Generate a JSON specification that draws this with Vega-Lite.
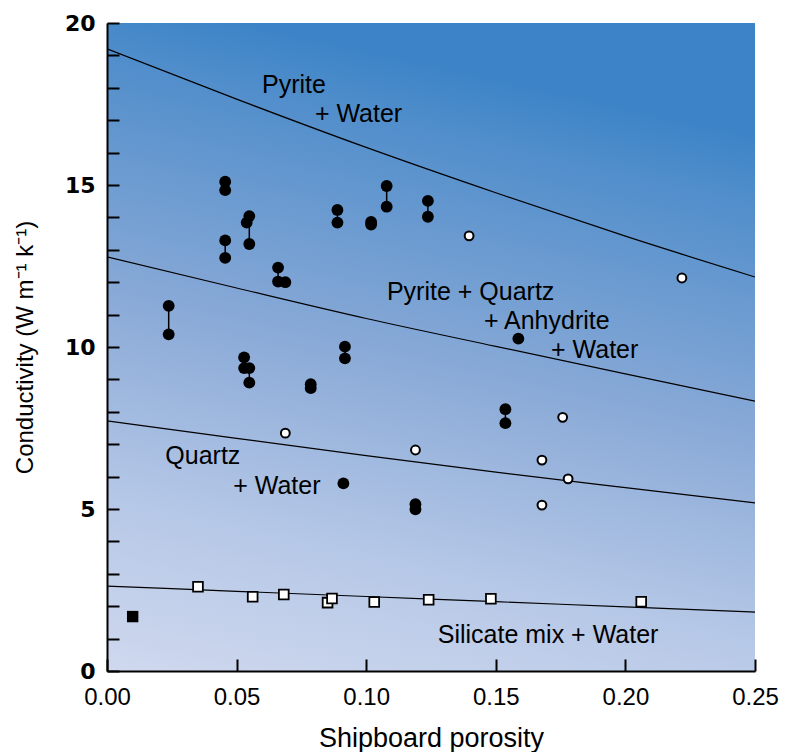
{
  "$schema": "https://vega.github.io/schema/vega-lite/v6.json",
  "width": 648,
  "height": 648,
  "autosize": {"type": "none"},
  "padding": {"left": 107, "top": 23, "right": 30, "bottom": 81},
  "background": "white",
  "config": {"view": {"stroke": null}},
  "datasets": {
    "bg": [{"x0": 0, "x1": 0.25, "y0": 0, "y1": 20}],
    "lines": [
      {"model": "Pyrite + Water", "phi": 0, "k": 19.2},
      {"model": "Pyrite + Water", "phi": 0.05, "k": 17.65},
      {"model": "Pyrite + Water", "phi": 0.1, "k": 16.16},
      {"model": "Pyrite + Water", "phi": 0.15, "k": 14.76},
      {"model": "Pyrite + Water", "phi": 0.2, "k": 13.42},
      {"model": "Pyrite + Water", "phi": 0.25, "k": 12.16},
      {"model": "Pyrite + Quartz + Anhydrite + Water", "phi": 0, "k": 12.78},
      {"model": "Pyrite + Quartz + Anhydrite + Water", "phi": 0.05, "k": 11.82},
      {"model": "Pyrite + Quartz + Anhydrite + Water", "phi": 0.1, "k": 10.88},
      {"model": "Pyrite + Quartz + Anhydrite + Water", "phi": 0.15, "k": 10.02},
      {"model": "Pyrite + Quartz + Anhydrite + Water", "phi": 0.2, "k": 9.17},
      {"model": "Pyrite + Quartz + Anhydrite + Water", "phi": 0.25, "k": 8.33},
      {"model": "Quartz + Water", "phi": 0, "k": 7.72},
      {"model": "Quartz + Water", "phi": 0.05, "k": 7.18},
      {"model": "Quartz + Water", "phi": 0.1, "k": 6.65},
      {"model": "Quartz + Water", "phi": 0.15, "k": 6.14},
      {"model": "Quartz + Water", "phi": 0.2, "k": 5.66},
      {"model": "Quartz + Water", "phi": 0.25, "k": 5.19},
      {"model": "Silicate mix + Water", "phi": 0, "k": 2.62},
      {"model": "Silicate mix + Water", "phi": 0.05, "k": 2.46},
      {"model": "Silicate mix + Water", "phi": 0.1, "k": 2.3},
      {"model": "Silicate mix + Water", "phi": 0.15, "k": 2.14},
      {"model": "Silicate mix + Water", "phi": 0.2, "k": 1.98},
      {"model": "Silicate mix + Water", "phi": 0.25, "k": 1.82}
    ],
    "pairs": [
      {"phi": 0.0238, "lo": 10.39, "hi": 11.27},
      {"phi": 0.0456, "lo": 12.75, "hi": 13.29},
      {"phi": 0.0456, "lo": 14.84, "hi": 15.10},
      {"phi": 0.0549, "lo": 13.18, "hi": 14.04},
      {"phi": 0.0660, "lo": 12.02, "hi": 12.45},
      {"phi": 0.0529, "lo": 9.35, "hi": 9.68},
      {"phi": 0.0549, "lo": 8.90, "hi": 9.35},
      {"phi": 0.0889, "lo": 13.84, "hi": 14.23},
      {"phi": 0.1079, "lo": 14.33, "hi": 14.97},
      {"phi": 0.1238, "lo": 14.02, "hi": 14.51},
      {"phi": 0.0918, "lo": 9.65, "hi": 10.01},
      {"phi": 0.1537, "lo": 7.65, "hi": 8.08},
      {"phi": 0.1190, "lo": 4.99, "hi": 5.15},
      {"phi": 0.0786, "lo": 8.73, "hi": 8.85}
    ],
    "points": [
      {"type": "filled circle", "phi": 0.0456, "k": 15.10},
      {"type": "filled circle", "phi": 0.0456, "k": 14.84},
      {"type": "filled circle", "phi": 0.0456, "k": 13.29},
      {"type": "filled circle", "phi": 0.0456, "k": 12.75},
      {"type": "filled circle", "phi": 0.0549, "k": 14.04},
      {"type": "filled circle", "phi": 0.0539, "k": 13.84},
      {"type": "filled circle", "phi": 0.0549, "k": 13.18},
      {"type": "filled circle", "phi": 0.0660, "k": 12.45},
      {"type": "filled circle", "phi": 0.0660, "k": 12.02},
      {"type": "filled circle", "phi": 0.0688, "k": 12.00},
      {"type": "filled circle", "phi": 0.0238, "k": 11.27},
      {"type": "filled circle", "phi": 0.0238, "k": 10.39},
      {"type": "filled circle", "phi": 0.0529, "k": 9.68},
      {"type": "filled circle", "phi": 0.0529, "k": 9.35},
      {"type": "filled circle", "phi": 0.0549, "k": 9.35},
      {"type": "filled circle", "phi": 0.0549, "k": 8.90},
      {"type": "filled circle", "phi": 0.0889, "k": 14.23},
      {"type": "filled circle", "phi": 0.0889, "k": 13.84},
      {"type": "filled circle", "phi": 0.1019, "k": 13.86},
      {"type": "filled circle", "phi": 0.1019, "k": 13.78},
      {"type": "filled circle", "phi": 0.1079, "k": 14.97},
      {"type": "filled circle", "phi": 0.1079, "k": 14.33},
      {"type": "filled circle", "phi": 0.1238, "k": 14.51},
      {"type": "filled circle", "phi": 0.1238, "k": 14.02},
      {"type": "filled circle", "phi": 0.0918, "k": 10.01},
      {"type": "filled circle", "phi": 0.0918, "k": 9.65},
      {"type": "filled circle", "phi": 0.0786, "k": 8.85},
      {"type": "filled circle", "phi": 0.0786, "k": 8.73},
      {"type": "filled circle", "phi": 0.0912, "k": 5.79},
      {"type": "filled circle", "phi": 0.1537, "k": 8.08},
      {"type": "filled circle", "phi": 0.1537, "k": 7.65},
      {"type": "filled circle", "phi": 0.1190, "k": 5.15},
      {"type": "filled circle", "phi": 0.1190, "k": 4.99},
      {"type": "filled circle", "phi": 0.1587, "k": 10.26},
      {"type": "open circle", "phi": 0.1397, "k": 13.43},
      {"type": "open circle", "phi": 0.0688, "k": 7.34},
      {"type": "open circle", "phi": 0.1758, "k": 7.83},
      {"type": "open circle", "phi": 0.1190, "k": 6.82},
      {"type": "open circle", "phi": 0.1678, "k": 6.51},
      {"type": "open circle", "phi": 0.1779, "k": 5.93},
      {"type": "open circle", "phi": 0.1678, "k": 5.12},
      {"type": "open circle", "phi": 0.2218, "k": 12.13},
      {"type": "open square", "phi": 0.0351, "k": 2.60},
      {"type": "open square", "phi": 0.0562, "k": 2.29},
      {"type": "open square", "phi": 0.0682, "k": 2.36},
      {"type": "open square", "phi": 0.0851, "k": 2.11},
      {"type": "open square", "phi": 0.0868, "k": 2.24},
      {"type": "open square", "phi": 0.1031, "k": 2.13},
      {"type": "open square", "phi": 0.1241, "k": 2.20},
      {"type": "open square", "phi": 0.1481, "k": 2.23},
      {"type": "open square", "phi": 0.2061, "k": 2.14},
      {"type": "filled square", "phi": 0.0099, "k": 1.68}
    ],
    "labels": [
      {"text": "Pyrite", "phi": 0.0598, "k": 17.84},
      {"text": "+ Water", "phi": 0.0802, "k": 16.94},
      {"text": "Pyrite + Quartz", "phi": 0.1080, "k": 11.45},
      {"text": "+ Anhydrite", "phi": 0.1454, "k": 10.56},
      {"text": "+ Water", "phi": 0.1713, "k": 9.65},
      {"text": "Quartz", "phi": 0.0225, "k": 6.39},
      {"text": "+ Water", "phi": 0.0487, "k": 5.45},
      {"text": "Silicate mix + Water", "phi": 0.1276, "k": 0.86}
    ]
  },
  "layer": [
    {
      "data": {"name": "bg"},
      "mark": {
        "type": "rect",
        "color": {
          "gradient": "linear",
          "x1": 0, "y1": 1, "x2": 0.22, "y2": 0,
          "stops": [
            {"offset": 0, "color": "#cfd8ee"},
            {"offset": 0.25, "color": "#b6c8e7"},
            {"offset": 0.55, "color": "#8aaad7"},
            {"offset": 0.9, "color": "#518ecb"},
            {"offset": 1, "color": "#3c84c7"}
          ]
        }
      },
      "encoding": {
        "x": {
          "field": "x0", "type": "quantitative",
          "scale": {"domain": [0, 0.25], "nice": false},
          "axis": {
            "title": "Shipboard porosity",
            "values": [0, 0.05, 0.1, 0.15, 0.2, 0.25],
            "tickCount": 10,
            "format": ".2f",
            "grid": false, "zindex": 1,
            "domainColor": "black", "domainWidth": 2,
            "tickColor": "black", "tickWidth": 2, "tickSize": -12,
            "labelFont": "Liberation Sans", "labelFontSize": 24, "labelColor": "black",
            "labelPadding": 26, "labelFlush": false, "labelOverlap": false,
            "titleFont": "Liberation Sans", "titleFontSize": 27, "titleFontWeight": "normal",
            "titleColor": "black", "titlePadding": 16
          }
        },
        "x2": {"field": "x1"},
        "y": {
          "field": "y0", "type": "quantitative",
          "scale": {"domain": [0, 20], "nice": false},
          "axis": {
            "title": "Conductivity (W m⁻¹ k⁻¹)",
            "values": [0,1,2,3,4,5,6,7,8,9,10,11,12,13,14,15,16,17,18,19,20],
            "tickCount": 40,
            "format": "d",
            "labelExpr": "datum.value % 5 === 0 ? datum.label : ''",
            "grid": false, "zindex": 1,
            "domainColor": "black", "domainWidth": 2,
            "tickColor": "black", "tickWidth": 2, "tickSize": -12,
            "labelFont": "DejaVu Sans", "labelFontSize": 22, "labelFontWeight": "bold",
            "labelColor": "black", "labelPadding": 24, "labelFlush": false, "labelOverlap": false,
            "titleFont": "Liberation Sans", "titleFontSize": 24, "titleFontWeight": "normal",
            "titleColor": "black", "titlePadding": 27
          }
        },
        "y2": {"field": "y1"}
      }
    },
    {
      "data": {"name": "lines"},
      "mark": {"type": "line", "color": "black", "strokeWidth": 1.2, "interpolate": "monotone", "clip": true},
      "encoding": {
        "x": {"field": "phi", "type": "quantitative"},
        "y": {"field": "k", "type": "quantitative"},
        "detail": {"field": "model"}
      }
    },
    {
      "data": {"name": "pairs"},
      "mark": {"type": "rule", "color": "black", "strokeWidth": 1.5},
      "encoding": {
        "x": {"field": "phi", "type": "quantitative"},
        "y": {"field": "lo", "type": "quantitative"},
        "y2": {"field": "hi"}
      }
    },
    {
      "data": {"name": "points"},
      "transform": [{"filter": "datum.type === 'filled circle'"}],
      "mark": {"type": "point", "shape": "circle", "filled": true, "color": "black", "size": 140, "opacity": 1},
      "encoding": {
        "x": {"field": "phi", "type": "quantitative"},
        "y": {"field": "k", "type": "quantitative"}
      }
    },
    {
      "data": {"name": "points"},
      "transform": [{"filter": "datum.type === 'open circle'"}],
      "mark": {"type": "point", "shape": "circle", "filled": true, "fill": "white", "stroke": "black", "strokeWidth": 2, "size": 78, "opacity": 1},
      "encoding": {
        "x": {"field": "phi", "type": "quantitative"},
        "y": {"field": "k", "type": "quantitative"}
      }
    },
    {
      "data": {"name": "points"},
      "transform": [{"filter": "datum.type === 'open square'"}],
      "mark": {"type": "point", "shape": "square", "filled": true, "fill": "white", "stroke": "black", "strokeWidth": 1.8, "size": 95, "opacity": 1},
      "encoding": {
        "x": {"field": "phi", "type": "quantitative"},
        "y": {"field": "k", "type": "quantitative"}
      }
    },
    {
      "data": {"name": "points"},
      "transform": [{"filter": "datum.type === 'filled square'"}],
      "mark": {"type": "point", "shape": "square", "filled": true, "color": "black", "size": 130, "opacity": 1},
      "encoding": {
        "x": {"field": "phi", "type": "quantitative"},
        "y": {"field": "k", "type": "quantitative"}
      }
    },
    {
      "data": {"name": "labels"},
      "mark": {"type": "text", "align": "left", "baseline": "alphabetic", "font": "Liberation Sans", "fontSize": 25, "color": "black"},
      "encoding": {
        "x": {"field": "phi", "type": "quantitative"},
        "y": {"field": "k", "type": "quantitative"},
        "text": {"field": "text"}
      }
    }
  ]
}
